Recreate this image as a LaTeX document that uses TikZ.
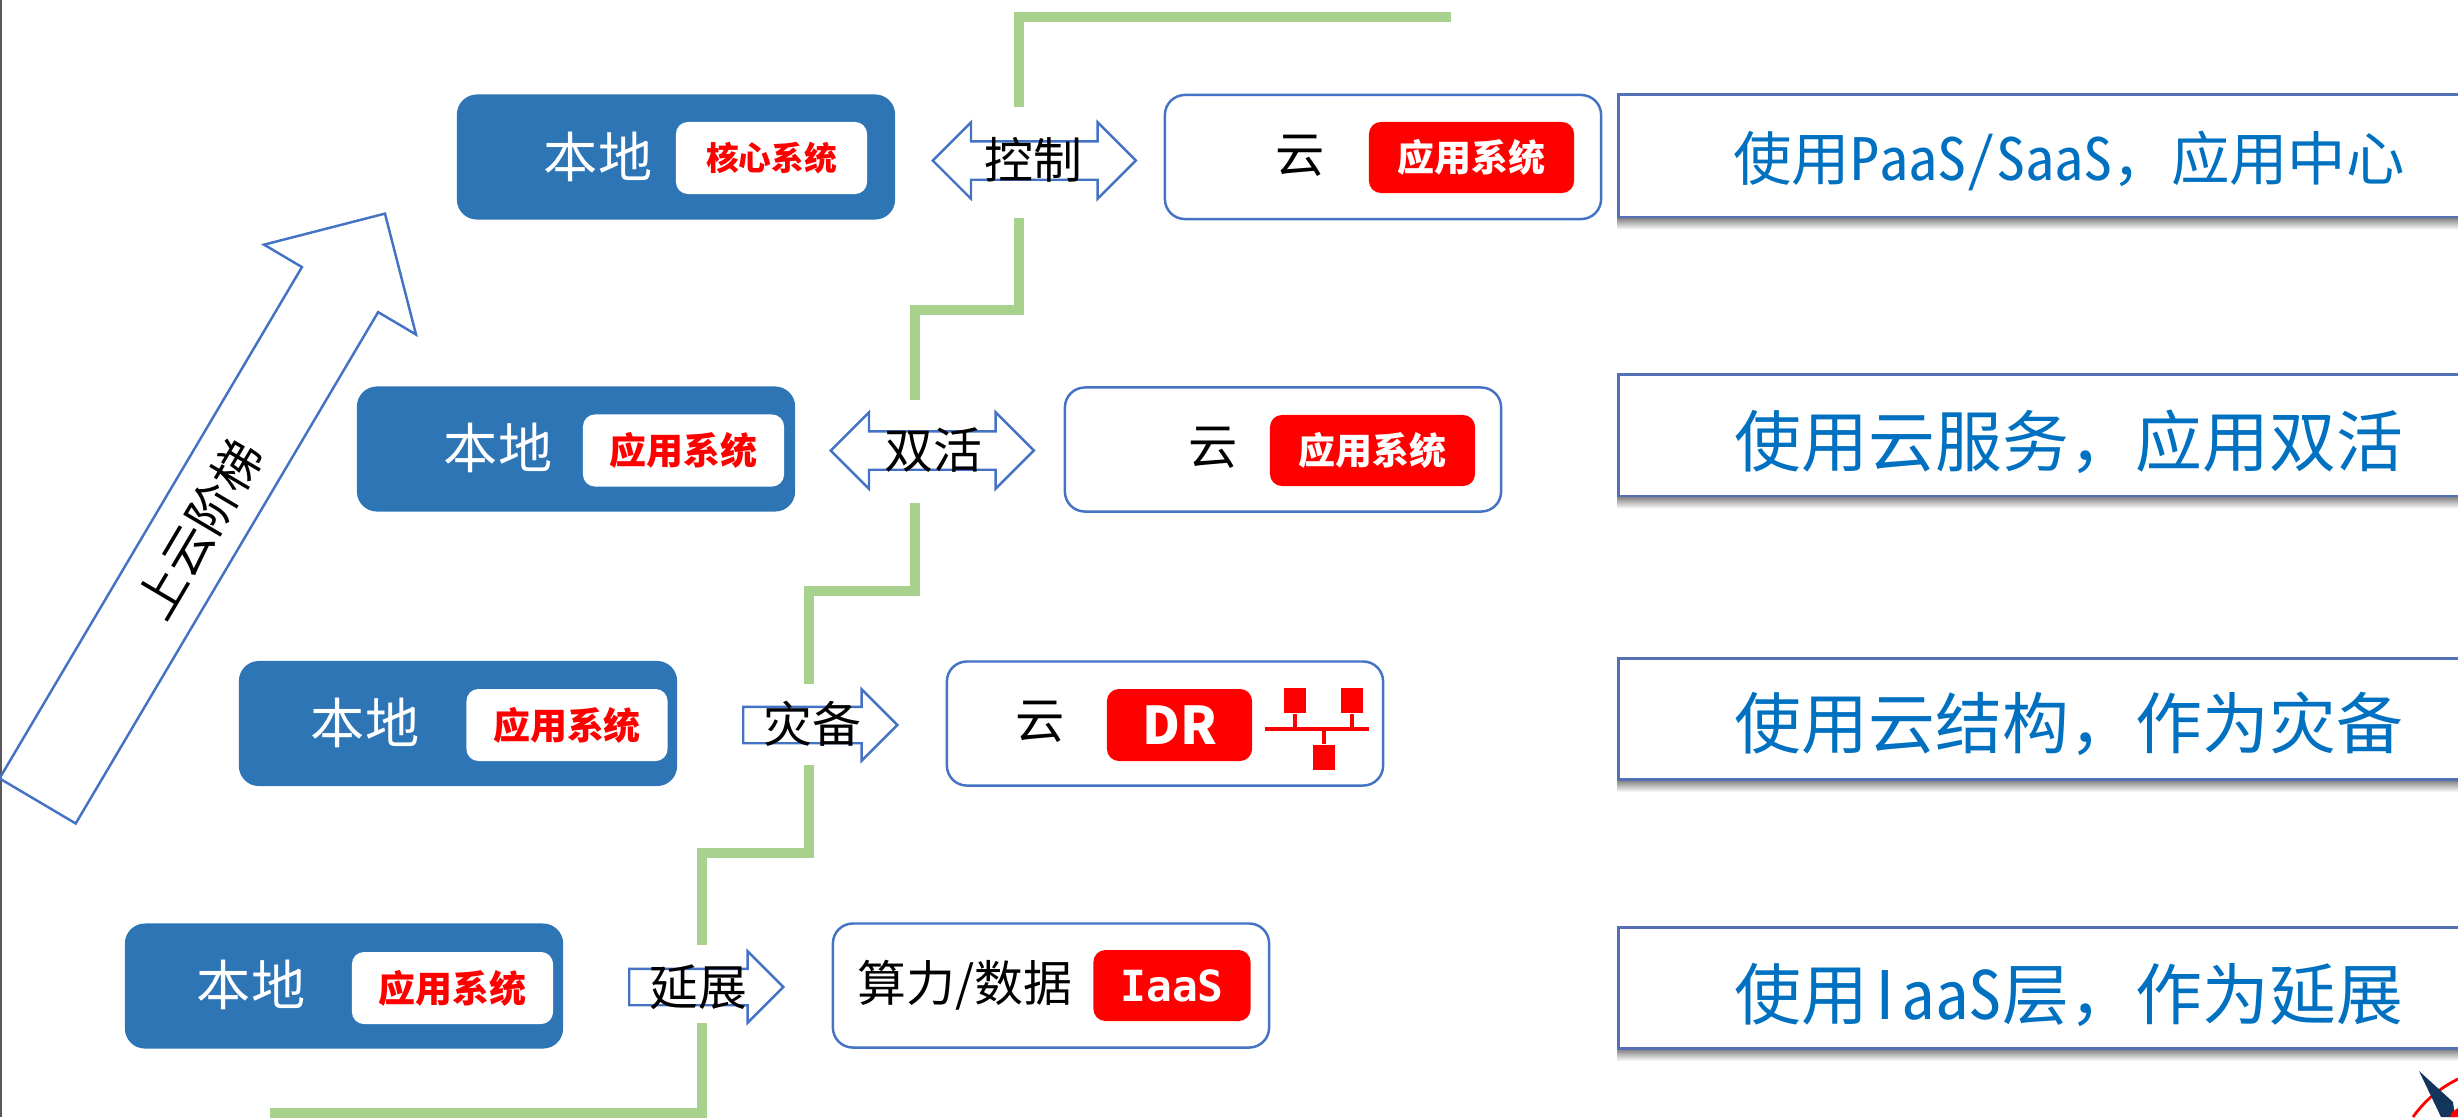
\documentclass[tikz,border=0pt]{standalone}
\usepackage{fontspec}
\setmainfont{Noto Sans CJK SC}
\newfontfamily\halffont[RawFeature=+hwid]{Noto Sans CJK SC}
\newfontfamily\iaasfont{DejaVu Sans Mono}
\usetikzlibrary{shapes.arrows}
\definecolor{localblue}{HTML}{2E75B6}
\definecolor{edgeblue}{HTML}{4472C4}
\definecolor{panelblue}{HTML}{5470B4}
\definecolor{textblue}{HTML}{0070C0}
\definecolor{stairgreen}{HTML}{A9D18E}
\definecolor{shadowgrey}{HTML}{8A8A8A}
\definecolor{logonavy}{HTML}{12355B}
\tikzset{
    localbox/.style={fill=localblue, rounded corners=0.2cm, minimum width=4.38cm, minimum height=1.25cm},
    cloudbox/.style={draw=edgeblue, line width=0.7pt, fill=white, rounded corners=0.2cm, minimum width=4.36cm, minimum height=1.24cm},
    sysbox/.style={fill=white, text=red, font=\fontsize{10.5}{12}\selectfont\bfseries, rounded corners=0.12cm, minimum width=2.01cm, minimum height=0.72cm, inner sep=0pt},
    redbox/.style={fill=red, text=white, font=\fontsize{10.5}{12}\selectfont\bfseries, rounded corners=0.12cm, minimum width=2.05cm, minimum height=0.71cm, inner sep=0pt},
    whitetext/.style={text=white, font=\fontsize{15.4}{17}\selectfont, inner sep=0pt},
    blacktext/.style={text=black, font=\fontsize{14}{16}\selectfont, inner sep=0pt},
    flowtext/.style={text=black, font=\fontsize{13.9}{15}\selectfont, inner sep=0pt},
    panel/.style={draw=panelblue, line width=0.85pt, fill=white, minimum width=8.6cm, minimum height=1.21cm},
    paneltext/.style={text=textblue, font=\fontsize{19}{21}\selectfont, inner sep=0pt},
    panelshadow/.style={top color=shadowgrey, bottom color=white},
    oneway/.style={single arrow, draw=edgeblue, line width=0.7pt, inner xsep=0pt, inner ysep=0.17cm, single arrow head extend=0.175cm, single arrow tip angle=90, minimum height=1.54cm, anchor=tail},
    twoway/.style={double arrow, draw=edgeblue, line width=0.7pt, inner xsep=0pt, inner ysep=0.18cm, double arrow head extend=0.19cm, double arrow tip angle=90, minimum height=2.03cm, anchor=tip 2},
    stair/.style={draw=stairgreen, line width=0.1cm},
    netsquare/.style={fill=red, minimum width=0.22cm, minimum height=0.25cm, inner sep=0pt},
    netline/.style={draw=red, line width=0.04cm}
}
\begin{document}
\begin{tikzpicture}[x=0.01cm, y=-0.01cm]
    \useasboundingbox (0,0) rectangle (2458,1117);
    \draw[color=black!65, line width=0.6pt] (0.5,0) -- (0.5,1117);

    \coordinate (stairtop) at (1451,17);
    \coordinate (ctrlup) at (1019,107);
    \coordinate (ctrldown) at (1019,218);
    \coordinate (duoup) at (915,400);
    \coordinate (duodown) at (915,503);
    \coordinate (drup) at (809,684);
    \coordinate (drdown) at (809,765);
    \coordinate (extup) at (702,945);
    \coordinate (extdown) at (702,1023);
    \coordinate (stairend) at (270,1113);
    \draw[stair] (stairtop) -| (ctrlup);
    \draw[stair] (ctrldown) -- ++(0,92) -| (duoup);
    \draw[stair] (duodown) -- ++(0,88) -| (drup);
    \draw[stair] (drdown) -- ++(0,88) -| (extup);
    \draw[stair] (extdown) |- (stairend);

    \node[single arrow, draw=edgeblue, line width=0.7pt, inner xsep=0pt, inner ysep=0.43cm, single arrow head extend=0.44cm, single arrow tip angle=90, minimum height=6.82cm, anchor=tail, rotate=59.4] (climb) at (37,802) {};
    \node[blacktext, rotate=59.4] (climblabel) at (199,529) {上云阶梯};

    \node[localbox] (local1) at (676,157) {};
    \node[localbox] (local2) at (576,449) {};
    \node[localbox] (local3) at (458,723.5) {};
    \node[localbox] (local4) at (344,986) {};
    \node[whitetext] (localtext1) at (598,157) {本地};
    \node[whitetext] (localtext2) at (498,448) {本地};
    \node[whitetext] (localtext3) at (365,723) {本地};
    \node[whitetext] (localtext4) at (251,985) {本地};
    \node[sysbox, minimum width=1.91cm, font=\fontsize{9.3}{11}\selectfont\bfseries] (sys1) at (771.5,158) {核心系统};
    \node[sysbox] (sys2) at (683.5,450.5) {应用系统};
    \node[sysbox] (sys3) at (567,725) {应用系统};
    \node[sysbox] (sys4) at (452.5,988) {应用系统};

    \node[twoway] (ctrlarrow) at (931,160.5) {};
    \node[twoway] (duoarrow) at (829,450.5) {};
    \node[oneway] (drarrow) at (742,725) {};
    \node[oneway] (extarrow) at (628,987) {};
    \node[flowtext] (ctrllabel) at (1033,160) {控制};
    \node[flowtext] (duolabel) at (933,450) {双活};
    \node[flowtext] (drlabel) at (812,724) {灾备};
    \node[flowtext] (extlabel) at (698,987) {延展};

    \node[cloudbox] (cloud1) at (1383,157) {};
    \node[cloudbox] (cloud2) at (1283,449.5) {};
    \node[cloudbox] (cloud3) at (1165,723.5) {};
    \node[cloudbox] (cloud4) at (1051,985.5) {};
    \node[blacktext] (cloudtext1) at (1300,156) {云};
    \node[blacktext] (cloudtext2) at (1213,448) {云};
    \node[blacktext] (cloudtext3) at (1040,722) {云};
    \node[flowtext] (cloudtext4) at (965,985) {算力/数据};
    \node[redbox] (app1) at (1471.5,157.5) {应用系统};
    \node[redbox] (app2) at (1372.5,450.5) {应用系统};
    \node[redbox, minimum width=1.45cm, minimum height=0.72cm, font=\fontsize{14.8}{16}\selectfont\bfseries] (dr) at (1179.5,725) {DR};
    \node[redbox, minimum width=1.57cm, font=\iaasfont\fontsize{12.2}{14}\selectfont\bfseries] (iaas) at (1172,985.5) {IaaS};

    \node[netsquare] (netleft) at (1295,700.5) {};
    \node[netsquare] (netright) at (1351.5,700.5) {};
    \node[netsquare] (netlow) at (1324,757) {};
    \coordinate (busleft) at (1265,729);
    \coordinate (busright) at (1369,729);
    \draw[netline] (busleft) -- (busright);
    \draw[netline] (netleft) -- (netleft |- busleft);
    \draw[netline] (netright) -- (netright |- busleft);
    \draw[netline] (netlow) -- (netlow |- busleft);

    \node[panel, minimum height=1.22cm] (panel1) at (2049,156) {};
    \node[panel] (panel2) at (2049,435.5) {};
    \node[panel] (panel3) at (2049,719) {};
    \node[panel] (panel4) at (2049,988) {};
    \shade[panelshadow] (panel1.south west) rectangle ++(860,11);
    \shade[panelshadow] (panel2.south west) rectangle ++(860,11);
    \shade[panelshadow] (panel3.south west) rectangle ++(860,11);
    \shade[panelshadow] (panel4.south west) rectangle ++(860,11);
    \node[paneltext, font=\fontsize{16.6}{19}\selectfont] (paneltext1) at (2069,161) {使用{\halffont PaaS/SaaS}，应用中心};
    \node[paneltext] (paneltext2) at (2069,442) {使用云服务，应用双活};
    \node[paneltext] (paneltext3) at (2069,724) {使用云结构，作为灾备};
    \node[paneltext] (paneltext4) at (2069,995) {使用\makebox[0.5em]{I}{\halffont aaS}层，作为延展};

    \draw[red, line width=0.8pt] (2413,1117) .. controls (2425,1100) and (2440,1088) .. (2458,1079);
    \fill[logonavy] (2419,1071) -- (2453,1102) -- (2455,1117) -- (2441,1117) -- cycle;
    \fill[red] (2458,1108) -- (2452,1112) -- (2450,1117) -- (2458,1117) -- cycle;
\end{tikzpicture}
\end{document}
